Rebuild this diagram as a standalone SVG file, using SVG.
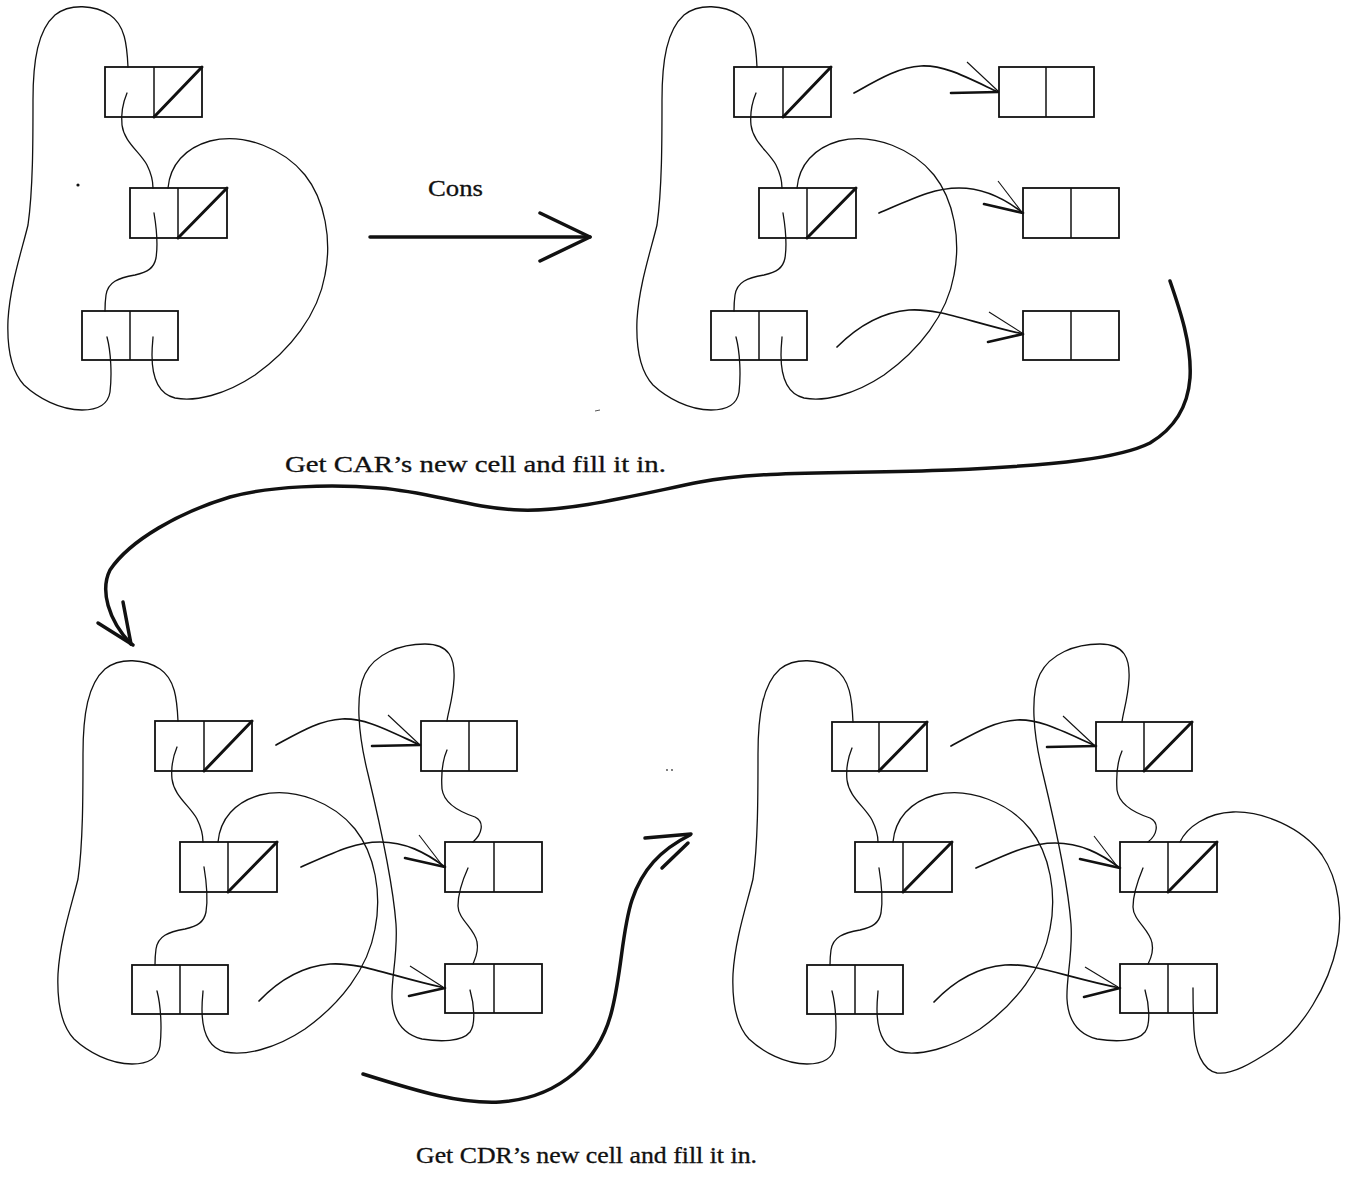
<svg xmlns="http://www.w3.org/2000/svg" width="1354" height="1177" viewBox="0 0 1354 1177">
<style>
.box{fill:none;stroke:#111;stroke-width:1.8}
.sep{stroke:#111;stroke-width:1.5}
.nil{stroke:#111;stroke-width:3;stroke-linecap:round}
.ln{fill:none;stroke:#111;stroke-width:1.3;stroke-linecap:round}
.ar{fill:none;stroke:#111;stroke-width:1.7;stroke-linecap:round}
.tb{fill:none;stroke:#111;stroke-width:1.1}
.kb{fill:none;stroke:#111;stroke-width:2.6;stroke-linecap:round}
.big{fill:none;stroke:#111;stroke-width:3.5;stroke-linecap:round;stroke-linejoin:round}
.lbl{font-family:"Liberation Serif","DejaVu Serif",serif;font-size:24px;fill:#111;stroke:#111;stroke-width:0.3}
</style>
<rect width="1354" height="1177" fill="#fff"/>

<!-- Panel 1 nodes -->
<g id="p1">
  <g id="p1-A"><rect class="box" x="105" y="67" width="97" height="50"/><line class="sep" x1="154" y1="67" x2="154" y2="117"/><line class="nil" x1="154" y1="117" x2="202" y2="67"/></g>
  <g id="p1-B"><rect class="box" x="130" y="188" width="97" height="50"/><line class="sep" x1="178" y1="188" x2="178" y2="238"/><line class="nil" x1="178" y1="238" x2="227" y2="188"/></g>
  <g id="p1-C"><rect class="box" x="82" y="311" width="96" height="49"/><line class="sep" x1="130" y1="311" x2="130" y2="360"/></g>
</g>

<!-- Panel 2 nodes -->
<g id="p2" transform="translate(629,0)">
  <g id="p2-A"><rect class="box" x="105" y="67" width="97" height="50"/><line class="sep" x1="154" y1="67" x2="154" y2="117"/><line class="nil" x1="154" y1="117" x2="202" y2="67"/></g>
  <g id="p2-B"><rect class="box" x="130" y="188" width="97" height="50"/><line class="sep" x1="178" y1="188" x2="178" y2="238"/><line class="nil" x1="178" y1="238" x2="227" y2="188"/></g>
  <g id="p2-C"><rect class="box" x="82" y="311" width="96" height="49"/><line class="sep" x1="130" y1="311" x2="130" y2="360"/></g>
  <g id="p2-D"><rect class="box" x="370" y="67" width="95" height="50"/><line class="sep" x1="417" y1="67" x2="417" y2="117"/></g>
  <g id="p2-E"><rect class="box" x="394" y="188" width="96" height="50"/><line class="sep" x1="442" y1="188" x2="442" y2="238"/></g>
  <g id="p2-F"><rect class="box" x="394" y="311" width="96" height="49"/><line class="sep" x1="442" y1="311" x2="442" y2="360"/></g>
</g>

<!-- Panel 3 nodes -->
<g id="p3" transform="translate(50,654)">
  <g id="p3-A"><rect class="box" x="105" y="67" width="97" height="50"/><line class="sep" x1="154" y1="67" x2="154" y2="117"/><line class="nil" x1="154" y1="117" x2="202" y2="67"/></g>
  <g id="p3-B"><rect class="box" x="130" y="188" width="97" height="50"/><line class="sep" x1="178" y1="188" x2="178" y2="238"/><line class="nil" x1="178" y1="238" x2="227" y2="188"/></g>
  <g id="p3-C"><rect class="box" x="82" y="311" width="96" height="49"/><line class="sep" x1="130" y1="311" x2="130" y2="360"/></g>
  <g id="p3-D"><rect class="box" x="371" y="67" width="96" height="50"/><line class="sep" x1="419" y1="67" x2="419" y2="117"/></g>
  <g id="p3-E"><rect class="box" x="395" y="188" width="97" height="50"/><line class="sep" x1="444" y1="188" x2="444" y2="238"/></g>
  <g id="p3-F"><rect class="box" x="395" y="310" width="97" height="49"/><line class="sep" x1="444" y1="310" x2="444" y2="359"/></g>
</g>

<!-- Panel 4 nodes -->
<g id="p4" transform="translate(727,655)">
  <g id="p4-A"><rect class="box" x="105" y="67" width="95" height="49"/><line class="sep" x1="152" y1="67" x2="152" y2="116"/><line class="nil" x1="152" y1="116" x2="200" y2="67"/></g>
  <g id="p4-B"><rect class="box" x="128" y="187" width="97" height="50"/><line class="sep" x1="176" y1="187" x2="176" y2="237"/><line class="nil" x1="176" y1="237" x2="225" y2="187"/></g>
  <g id="p4-C"><rect class="box" x="80" y="310" width="96" height="49"/><line class="sep" x1="128" y1="310" x2="128" y2="359"/></g>
  <g id="p4-D"><rect class="box" x="369" y="67" width="96" height="49"/><line class="sep" x1="417" y1="67" x2="417" y2="116"/><line class="nil" x1="417" y1="116" x2="465" y2="67"/></g>
  <g id="p4-E"><rect class="box" x="393" y="187" width="97" height="50"/><line class="sep" x1="441" y1="187" x2="441" y2="237"/><line class="nil" x1="441" y1="237" x2="490" y2="187"/></g>
  <g id="p4-F"><rect class="box" x="393" y="309" width="97" height="49"/><line class="sep" x1="441" y1="309" x2="441" y2="358"/></g>
</g>

<g id="connectors">
  <!-- Panel 1 pointers -->
  <g id="c-p1">
    <path class="ln" d="M107,337 C111,352 112,375 110,392 C108,405 98,410 82,410 C60,410 38,398 24,385 C10,370 7,345 8,320 C10,285 22,250 28,225 C33,190 33,140 33,100 C33,60 38,30 55,15 C70,3 95,5 110,15 C125,25 127,45 128,67"/>
    <path class="ln" d="M127,93 C122,105 121,115 122,125 C124,142 140,152 147,165 C152,175 153,182 153,188"/>
    <path class="ln" d="M154,213 C156,225 158,245 156,258 C154,268 148,272 135,275 C118,278 108,282 106,295 C105,302 105,307 105,311"/>
    <path class="ln" d="M168,188 C170,165 185,148 210,141 C245,132 285,150 305,175 C325,200 332,240 325,275 C318,315 290,350 255,375 C225,395 195,402 175,398 C155,393 152,370 152,355 C152,345 153,340 153,337"/>
  </g>
  <!-- Panel 2 pointers and copy arrows -->
  <g id="c-p2" transform="translate(629,0)">
    <path class="ln" d="M107,337 C111,352 112,375 110,392 C108,405 98,410 82,410 C60,410 38,398 24,385 C10,370 7,345 8,320 C10,285 22,250 28,225 C33,190 33,140 33,100 C33,60 38,30 55,15 C70,3 95,5 110,15 C125,25 127,45 128,67"/>
    <path class="ln" d="M127,93 C122,105 121,115 122,125 C124,142 140,152 147,165 C152,175 153,182 153,188"/>
    <path class="ln" d="M154,213 C156,225 158,245 156,258 C154,268 148,272 135,275 C118,278 108,282 106,295 C105,302 105,307 105,311"/>
    <path class="ln" d="M168,188 C170,165 185,148 210,141 C245,132 285,150 305,175 C325,200 332,240 325,275 C318,315 290,350 255,375 C225,395 195,402 175,398 C155,393 152,370 152,355 C152,345 153,340 153,337"/>
    <path class="ar" d="M225,93 C250,79 270,67 292,66 C315,65 335,76 369,92"/>
    <path class="tb" d="M338,62 L369,91"/><path class="kb" d="M322,93 L369,92"/>
    <path class="ar" d="M250,213 C285,198 305,188 330,188 C355,188 375,198 394,213"/>
    <path class="tb" d="M369,181 L392,211"/><path class="kb" d="M355,204 L394,213"/>
    <path class="ar" d="M208,347 C230,325 255,312 280,310 C310,308 340,322 394,334"/>
    <path class="tb" d="M360,312 L393,333"/><path class="kb" d="M359,342 L394,334"/>
  </g>
  <!-- Panel 3 -->
  <g id="c-p3" transform="translate(50,654)">
    <path class="ln" d="M107,337 C111,352 112,375 110,392 C108,405 98,410 82,410 C60,410 38,398 24,385 C10,370 7,345 8,320 C10,285 22,250 28,225 C33,190 33,140 33,100 C33,60 38,30 55,15 C70,3 95,5 110,15 C125,25 127,45 128,67"/>
    <path class="ln" d="M127,93 C122,105 121,115 122,125 C124,142 140,152 147,165 C152,175 153,182 153,188"/>
    <path class="ln" d="M154,213 C156,225 158,245 156,258 C154,268 148,272 135,275 C118,278 108,282 106,295 C105,302 105,307 105,311"/>
    <path class="ln" d="M168,188 C170,165 185,148 210,141 C245,132 285,150 305,175 C325,200 332,240 325,275 C318,315 290,350 255,375 C225,395 195,402 175,398 C155,393 152,370 152,355 C152,345 153,340 153,337"/>
    <path class="ar" d="M226,91 C250,78 270,66 292,65 C315,64 335,75 370,91"/>
    <path class="tb" d="M338,61 L369,90"/><path class="kb" d="M322,92 L370,91"/>
    <path class="ar" d="M251,213 C285,198 305,188 330,188 C355,188 375,198 395,213"/>
    <path class="tb" d="M369,181 L392,211"/><path class="kb" d="M355,204 L395,213"/>
    <path class="ar" d="M209,347 C230,325 255,312 280,310 C310,308 340,322 395,334"/>
    <path class="tb" d="M360,312 L393,333"/><path class="kb" d="M359,342 L395,334"/>
    <path class="ln" d="M420,336 C424,350 426,370 420,378 C412,388 390,388 372,385 C352,380 343,365 342,345 C341,325 348,300 346,270 C343,230 330,170 318,120 C308,80 305,40 315,20 C325,0 350,-10 375,-10 C400,-10 405,5 404,25 C403,45 398,58 397,67"/>
    <path class="ln" d="M397,96 C393,105 391,120 392,135 C394,150 410,158 425,163 C435,168 432,180 423,188"/>
    <path class="ln" d="M418,214 C413,225 408,240 408,252 C408,265 425,275 427,288 C429,298 425,305 423,310"/>
  </g>
  <!-- Panel 4 -->
  <g id="c-p4" transform="translate(727,655)">
    <path class="ln" d="M105,336 C109,351 110,374 108,391 C106,404 96,409 80,409 C58,409 36,397 22,384 C8,369 5,344 6,319 C8,284 20,249 26,224 C31,189 31,139 31,99 C31,59 36,29 53,14 C68,2 93,4 108,14 C123,24 125,44 126,67"/>
    <path class="ln" d="M125,93 C120,105 119,115 120,125 C122,142 138,152 145,165 C150,175 151,182 151,187"/>
    <path class="ln" d="M152,213 C154,225 156,245 154,258 C152,268 146,272 133,275 C116,278 106,282 104,295 C103,302 103,307 103,310"/>
    <path class="ln" d="M166,187 C168,164 183,147 208,140 C243,131 283,149 303,174 C323,199 330,239 323,274 C316,314 288,349 253,374 C223,394 193,401 173,397 C153,392 150,369 150,354 C150,344 151,339 151,336"/>
    <path class="ar" d="M224,91 C248,78 268,66 290,65 C313,64 333,75 369,91"/>
    <path class="tb" d="M336,61 L367,90"/><path class="kb" d="M320,92 L369,91"/>
    <path class="ar" d="M249,213 C283,198 303,188 328,188 C353,188 373,198 393,213"/>
    <path class="tb" d="M367,181 L390,211"/><path class="kb" d="M353,204 L393,213"/>
    <path class="ar" d="M207,347 C228,325 253,312 278,310 C308,308 338,322 393,333"/>
    <path class="tb" d="M358,312 L391,332"/><path class="kb" d="M357,342 L393,333"/>
    <path class="ln" d="M418,335 C422,349 424,369 418,377 C410,387 388,387 370,384 C350,379 341,364 340,344 C339,324 346,299 344,269 C341,229 328,169 316,119 C306,79 303,39 313,19 C323,-1 348,-11 373,-11 C398,-11 403,4 402,24 C401,44 396,57 395,67"/>
    <path class="ln" d="M395,96 C391,105 389,120 390,135 C392,150 408,158 423,163 C433,168 430,180 421,187"/>
    <path class="ln" d="M416,213 C411,225 406,240 406,252 C406,265 423,275 425,288 C427,298 423,305 421,309"/>
    <path class="ln" d="M453,187 C460,172 480,158 506,157 C535,156 575,172 595,200 C612,225 616,260 610,290 C602,330 575,375 545,395 C525,408 505,420 490,418 C475,415 468,395 467,375 C466,355 466,345 466,333"/>
  </g>
  <!-- Transition arrows -->
  <g id="c-cons">
    <path class="big" d="M370,237 L590,237"/>
    <path class="big" d="M540,213 L590,237 L540,261"/>
  </g>
  <g id="c-car">
    <path class="big" d="M1170,281 C1180,310 1192,345 1190,378 C1188,405 1175,428 1150,443 C1120,458 1060,465 950,470 C850,474 760,470 700,482 C640,494 570,512 520,510 C470,508 430,492 380,488 C330,484 270,486 230,497 C180,512 130,540 110,570 C100,590 108,620 131,644"/>
    <path class="big" d="M123,602 L131,644"/>
    <path class="big" d="M98,623 L133,645"/>
  </g>
  <g id="c-cdr">
    <path class="big" d="M363,1074 C420,1092 460,1104 500,1102 C560,1098 600,1060 612,1010 C622,970 622,930 632,900 C642,870 660,850 690,835"/>
    <path class="big" d="M645,838 L691,834"/>
    <path class="big" d="M662,868 L688,843"/>
  </g>
</g>

<!-- small marks -->
<circle cx="78" cy="185" r="1.6" fill="#111"/>
<line x1="595" y1="411" x2="600" y2="410" stroke="#555" stroke-width="1"/>
<circle cx="667" cy="770" r="0.9" fill="#444"/>
<circle cx="672" cy="770" r="0.9" fill="#444"/>

<!-- labels -->
<text class="lbl" x="428" y="196" textLength="55" lengthAdjust="spacingAndGlyphs">Cons</text>
<text class="lbl" x="285" y="472" textLength="381" lengthAdjust="spacingAndGlyphs">Get CAR’s new cell and fill it in.</text>
<text class="lbl" x="416" y="1163" font-size="23" style="font-size:23px" textLength="341" lengthAdjust="spacingAndGlyphs">Get CDR’s new cell and fill it in.</text>
</svg>
